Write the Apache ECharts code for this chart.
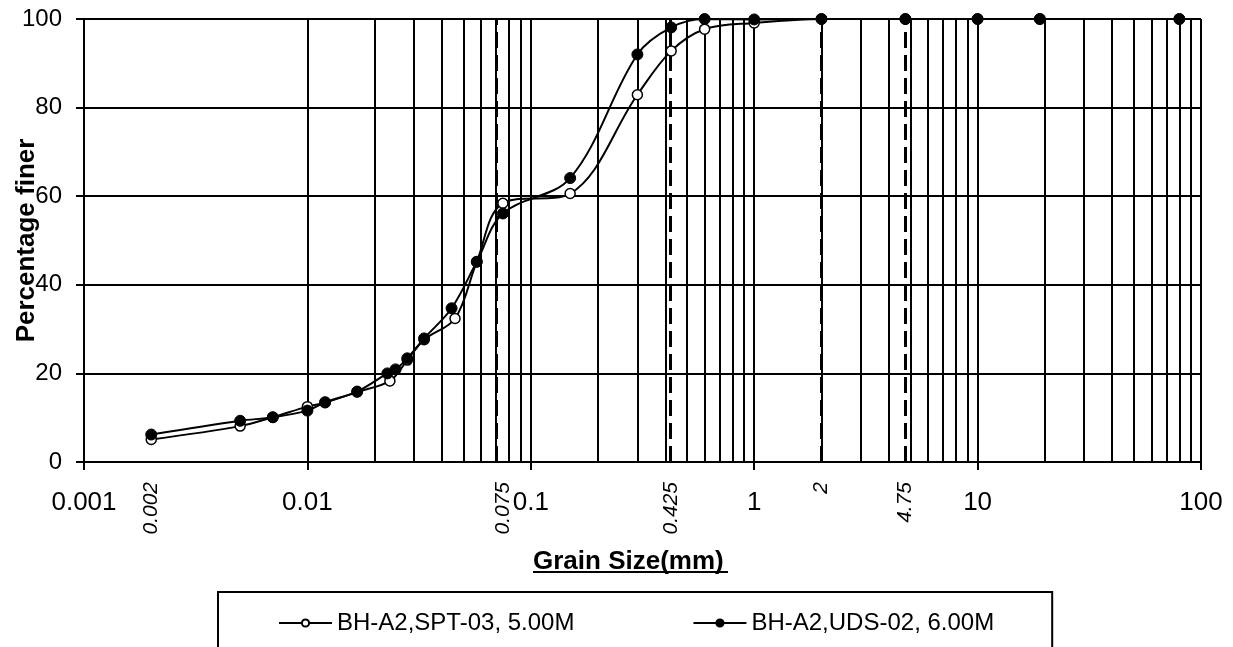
<!DOCTYPE html>
<html><head><meta charset="utf-8">
<script src="https://cdn.jsdelivr.net/npm/echarts@6/dist/echarts.min.js"></script>
<style>html,body{margin:0;padding:0;background:#fff}#c{width:1233px;height:647px}</style>
</head><body><div id="c"></div>
<script>
// Series 1: BH-A2,SPT-03, 5.00M (open circles)
const sptSize = [0.002, 0.005, 0.007, 0.01, 0.012, 0.0167, 0.0234, 0.028, 0.0333, 0.0458, 0.0573, 0.075, 0.15, 0.3, 0.425, 0.6, 1, 2, 4.75, 10, 19, 80];
const sptFiner = [5.1, 8.1, 10.1, 12.5, 13.4, 15.8, 18.3, 23.0, 27.6, 32.4, 45.2, 58.4, 60.6, 82.9, 92.8, 97.7, 99.1, 100, 100, 100, 100, 100];
// Series 2: BH-A2,UDS-02, 6.00M (filled circles)
const udsSize = [0.002, 0.005, 0.007, 0.01, 0.012, 0.0167, 0.0228, 0.0248, 0.028, 0.0333, 0.0442, 0.0573, 0.075, 0.15, 0.3, 0.425, 0.6, 1, 2, 4.75, 10, 19, 80];
const udsFiner = [6.2, 9.3, 10.1, 11.6, 13.5, 15.9, 20.0, 20.9, 23.4, 27.9, 34.7, 45.2, 56.1, 64.1, 92.0, 98.1, 100, 99.9, 100, 100, 100, 100, 100];

const seriesNames = ['BH-A2,SPT-03, 5.00M', 'BH-A2,UDS-02, 6.00M'];
// reference sieve sizes (dashed lines) and their labels
const refSizes = [0.002, 0.075, 0.425, 2, 4.75];
const refLabels = ['0.002', '0.075', '0.425', '2', '4.75'];
// x tick labels (decades)
const xTickLabels = ['0.001', '0.01', '0.1', '1', '10', '100'];
// minor log grid lines
const decades = [0.001, 0.01, 0.1, 1, 10];
const minorMultipliers = [2, 3, 4, 5, 6, 7, 8, 9];

const FONT = 'Liberation Sans, Arial, sans-serif';
const minorLines = [];
decades.forEach(d => minorMultipliers.forEach(m => minorLines.push({ xAxis: +(d * m).toPrecision(6), lineStyle: { type: 'solid', width: 2, color: '#000' } })));
const refLines = refSizes.map(v => ({ xAxis: v, lineStyle: { type: [16, 7], width: 3, color: '#000' } }));

const chart = echarts.init(document.getElementById('c'), null, { renderer: 'canvas' });
chart.setOption({
  animation: false,
  backgroundColor: '#fff',
  textStyle: { fontFamily: FONT, color: '#000' },
  grid: { left: 84, right: 32, top: 19, bottom: 185, containLabel: false, outerBoundsMode: 'none' },
  xAxis: {
    type: 'log', logBase: 10, min: 0.001, max: 100,
    axisLine: { show: true, lineStyle: { color: '#000', width: 2 } },
    axisTick: { show: true, inside: false, length: 8, lineStyle: { color: '#000', width: 2 } },
    splitLine: { show: true, lineStyle: { color: '#000', width: 2 } },
    axisLabel: { color: '#000', fontSize: 26, fontFamily: FONT, margin: 28, formatter: (v, i) => xTickLabels[i] }
  },
  yAxis: {
    type: 'value', min: 0, max: 100, interval: 20,
    name: 'Percentage finer', nameLocation: 'middle', nameGap: 44, nameMoveOverlap: false,
    nameTextStyle: { fontSize: 26, fontWeight: 'bold', fontFamily: FONT, color: '#000' },
    axisLine: { show: true, lineStyle: { color: '#000', width: 2 } },
    axisTick: { show: true, inside: false, length: 8, lineStyle: { color: '#000', width: 2 } },
    splitLine: { show: true, lineStyle: { color: '#000', width: 2 } },
    axisLabel: { color: '#000', fontSize: 24, fontFamily: FONT, margin: 22, padding: [6, 0, 0, 0] }
  },
  legend: {
    data: seriesNames,
    left: 218, top: 592,
    padding: [19, 58, 40, 60],
    borderColor: '#000', borderWidth: 2,
    itemWidth: 53, itemHeight: 9, itemGap: 118,
    textStyle: { fontSize: 24, fontFamily: FONT, color: '#000' }
  },
  graphic: [
    { type: 'text', left: 533, top: 549, style: { text: 'Grain Size(mm)', font: 'bold 26px ' + FONT, fill: '#000' } },
    { type: 'rect', left: 533, top: 571, shape: { width: 195, height: 2 }, style: { fill: '#000' } }
  ],
  series: [
    {
      type: 'scatter', name: 'refs', z: 1, silent: true,
      data: refSizes.map(v => [v, 0]), symbolSize: 0,
      itemStyle: { color: '#000', opacity: 1 },
      label: {
        show: true, position: 'bottom', distance: 20, rotate: 90, align: 'right', verticalAlign: 'middle',
        fontSize: 21, fontStyle: 'italic', fontWeight: 'normal', fontFamily: FONT, color: '#000', opacity: 1,
        formatter: p => refLabels[p.dataIndex]
      },
      markLine: { silent: true, symbol: ['none', 'none'], label: { show: false }, data: minorLines.concat(refLines) }
    },
    {
      type: 'line', name: seriesNames[0], z: 5,
      data: sptSize.map((v, i) => [v, sptFiner[i]]),
      smooth: 0.35, symbol: 'circle', symbolSize: 10, showAllSymbol: true,
      lineStyle: { color: '#000', width: 2 },
      itemStyle: { color: '#fff', borderColor: '#000', borderWidth: 1.5 }
    },
    {
      type: 'line', name: seriesNames[1], z: 6,
      data: udsSize.map((v, i) => [v, udsFiner[i]]),
      smooth: 0.35, symbol: 'circle', symbolSize: 11, showAllSymbol: true,
      lineStyle: { color: '#000', width: 2 },
      itemStyle: { color: '#000', borderColor: '#000', borderWidth: 1 }
    }
  ]
});
</script></body></html>
